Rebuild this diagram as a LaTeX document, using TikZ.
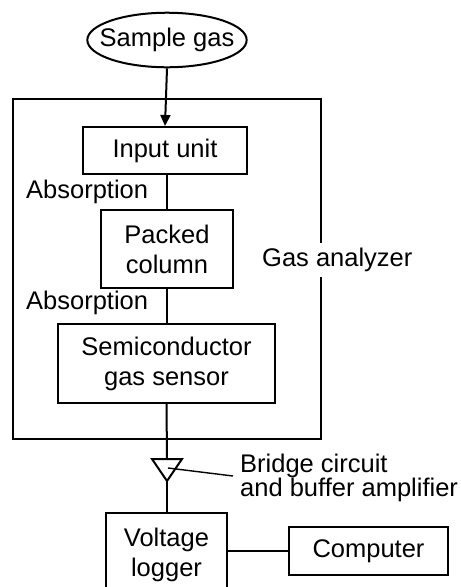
\documentclass[tikz,border=0pt]{standalone}
\usepackage{fontspec}
\setmainfont{Liberation Sans}
\usetikzlibrary{arrows.meta,shapes.geometric}
\begin{document}
\begin{tikzpicture}[x=1pt,y=-1pt,
  every node/.style={font=\fontsize{25.5}{30}\selectfont, inner sep=0pt},
  boxnode/.style={draw, line width=2pt, align=center},
  lbl/.style={anchor=west},
  conn/.style={line width=2pt}]
\useasboundingbox (0,0) rectangle (461,587);
\fill[white] (0,0) rectangle (461,587);
% outer gas analyzer box
\draw[line width=2pt] (13,99) rectangle (321,439);
\node[draw, ellipse, line width=2pt, inner xsep=-11pt, inner ysep=7.4pt] (sample) at (167,40) {Sample gas};
\node[boxnode, minimum width=164pt, minimum height=47pt] (input) at (165,150.5) {Input unit};
\node[lbl] (abs1) at (26,192) {Absorption};
\node[boxnode, minimum width=132pt, minimum height=78pt] (packed) at (167,249) {Packed\\column};
\node[lbl] (abs2) at (26,303) {Absorption};
\node[boxnode, minimum width=217pt, minimum height=79pt] (semi) at (166.5,363.5) {Semiconductor\\gas sensor};
\node[lbl, fill=white, inner ysep=5pt, inner xsep=0pt] (gasan) at (262,260) {Gas analyzer};
\coordinate (ampT) at (167,459);
\coordinate (ampB) at (167,481);
\coordinate (ampC) at (168,468);
\draw[line width=2pt, line join=miter] (152,459) -- (182,459) -- (ampB) -- cycle;
\node[lbl, align=left, font=\fontsize{25.5}{24}\selectfont] (bridge) at (240,478) {Bridge circuit\\and buffer amplifier};
\node[boxnode, minimum width=121pt, minimum height=84pt] (logger) at (166.5,555) {Voltage\\logger};
\node[boxnode, minimum width=159pt, minimum height=48pt] (computer) at (368.5,551) {Computer};
% connectors
\draw[conn, -{Triangle[length=11pt,width=10pt]}] (sample.south) -- (input.north);
\draw[conn] (input.south -| packed.north) -- (packed.north);
\draw[conn] (packed.south) -- (packed.south |- semi.north);
\draw[conn] (semi.south) -- (ampT);
\draw[conn] (ampB) -- (ampB |- logger.north);
\draw[line width=1.4pt] (ampC) -- (233,476) coordinate (leadend);
\draw[conn] (logger.east |- computer.west) -- (computer.west);
\end{tikzpicture}
\end{document}
